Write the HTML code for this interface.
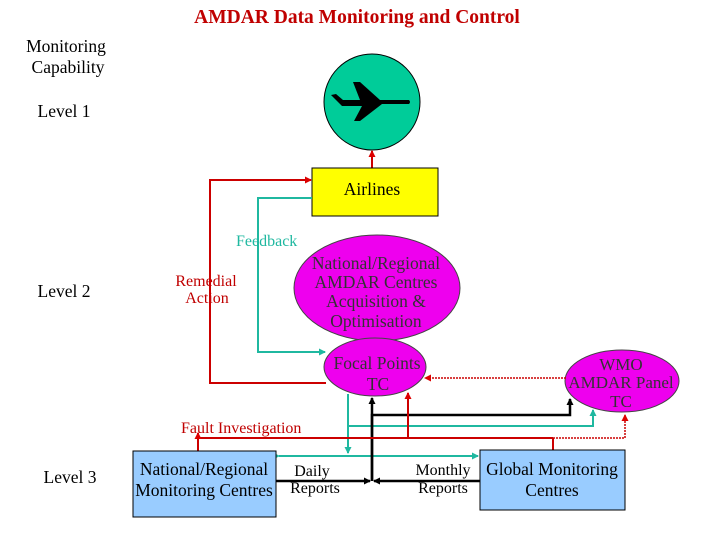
<!DOCTYPE html>
<html><head><style>
body{margin:0;background:#fff;}
svg text{font-family:"Liberation Serif",serif;}
</style></head><body>
<svg width="720" height="540" viewBox="0 0 720 540" xmlns="http://www.w3.org/2000/svg">
<defs>
<marker id="r" markerWidth="7" markerHeight="7" refX="6" refY="3.5" orient="auto" markerUnits="userSpaceOnUse"><path d="M0,0 L7,3.5 L0,7z" fill="#d00"/></marker>
<marker id="t" markerWidth="7" markerHeight="7" refX="6" refY="3.5" orient="auto" markerUnits="userSpaceOnUse"><path d="M0,0 L7,3.5 L0,7z" fill="#1fb8a0"/></marker>
<marker id="k" markerWidth="7" markerHeight="7" refX="6" refY="3.5" orient="auto" markerUnits="userSpaceOnUse"><path d="M0,0 L7,3.5 L0,7z" fill="#000"/></marker>
</defs>
<text x="357" y="23" text-anchor="middle" font-size="19.5" font-weight="bold" fill="#c00000">AMDAR Data Monitoring and Control</text>
<text x="66" y="52" text-anchor="middle" font-size="17.5">Monitoring</text>
<text x="68" y="73" text-anchor="middle" font-size="17.5">Capability</text>
<text x="64" y="117" text-anchor="middle" font-size="17.5">Level 1</text>
<text x="64" y="297" text-anchor="middle" font-size="17.5">Level 2</text>
<text x="70" y="483" text-anchor="middle" font-size="17.5">Level 3</text>

<circle cx="372" cy="102" r="48" fill="#00cc99" stroke="#000" stroke-width="1"/>
<path d="M331,95 L336,94 L343,100 L360,100 L353,82 L360,82 L380,100 L409,100 Q411,102 409,104 L382,104 L360,121 L354,121 L362,106 L342,106 Z" fill="#000"/>

<line x1="372" y1="168" x2="372" y2="151" stroke="#c00" stroke-width="2" marker-end="url(#r)"/>
<rect x="312" y="168" width="126" height="48" fill="#ffff00" stroke="#000"/>
<text x="372" y="195" text-anchor="middle" font-size="17.5">Airlines</text>

<ellipse cx="377" cy="288" rx="83" ry="53" fill="#ee00ee" stroke="#444"/>
<text x="376" y="269" text-anchor="middle" font-size="17.5" fill="#333">National/Regional</text>
<text x="376" y="288" text-anchor="middle" font-size="17.5" fill="#333">AMDAR Centres</text>
<text x="376" y="307" text-anchor="middle" font-size="17.5" fill="#333">Acquisition &amp;</text>
<text x="376" y="327" text-anchor="middle" font-size="17.5" fill="#333">Optimisation</text>

<ellipse cx="375" cy="367" rx="51" ry="29" fill="#ee00ee" stroke="#444"/>
<text x="377" y="369" text-anchor="middle" font-size="17.5" fill="#333">Focal Points</text>
<text x="378" y="390" text-anchor="middle" font-size="17.5" fill="#333">TC</text>

<ellipse cx="622" cy="381" rx="57" ry="31" fill="#ee00ee" stroke="#444"/>
<text x="621" y="370" text-anchor="middle" font-size="17" fill="#333">WMO</text>
<text x="621" y="388" text-anchor="middle" font-size="17" fill="#333">AMDAR Panel</text>
<text x="621" y="407" text-anchor="middle" font-size="17" fill="#333">TC</text>

<text x="236" y="246" font-size="16" fill="#1fb8a0">Feedback</text>
<text x="206" y="286" text-anchor="middle" font-size="16" fill="#c00000">Remedial</text>
<text x="207" y="303" text-anchor="middle" font-size="16" fill="#c00000">Action</text>
<text x="181" y="433" font-size="16" fill="#c00000">Fault Investigation</text>

<polyline points="326,383 210,383 210,180 311,180" fill="none" stroke="#c00" stroke-width="2" marker-end="url(#r)"/>
<polyline points="312,198 258,198 258,352 325,352" fill="none" stroke="#1fb8a0" stroke-width="2" marker-end="url(#t)"/>

<line x1="348" y1="394" x2="348" y2="453" stroke="#1fb8a0" stroke-width="2" marker-end="url(#t)"/>
<polyline points="348,426 593,426 593,410" fill="none" stroke="#1fb8a0" stroke-width="2" marker-end="url(#t)"/>
<line x1="279" y1="456" x2="478" y2="456" stroke="#1fb8a0" stroke-width="2" marker-start="url(#t)" marker-end="url(#t)"/>

<polyline points="372,481 372,415 570,415 570,399" fill="none" stroke="#000" stroke-width="2.5" marker-end="url(#k)"/>
<line x1="372" y1="481" x2="372" y2="398" stroke="#000" stroke-width="2.5" marker-end="url(#k)"/>
<line x1="276" y1="481" x2="370" y2="481" stroke="#000" stroke-width="2.5" marker-end="url(#k)"/>
<line x1="480" y1="481" x2="374" y2="481" stroke="#000" stroke-width="2.5" marker-end="url(#k)"/>

<line x1="198" y1="438" x2="553" y2="438" stroke="#c00" stroke-width="2"/>
<line x1="198" y1="451" x2="198" y2="433" stroke="#c00" stroke-width="2" marker-end="url(#r)"/>
<line x1="408" y1="438" x2="408" y2="393" stroke="#c00" stroke-width="2" marker-end="url(#r)"/>
<line x1="553" y1="450" x2="553" y2="438" stroke="#c00" stroke-width="2"/>
<polyline points="553,438 625,438 625,415" fill="none" stroke="#c00" stroke-width="1.5" stroke-dasharray="2,1" marker-end="url(#r)"/>
<line x1="566" y1="378" x2="425" y2="378" stroke="#c00" stroke-width="1.5" stroke-dasharray="2,1" marker-end="url(#r)"/>

<rect x="133" y="451" width="143" height="66" fill="#99ccff" stroke="#000"/>
<text x="204" y="475" text-anchor="middle" font-size="17.5">National/Regional</text>
<text x="204" y="496" text-anchor="middle" font-size="17.5">Monitoring Centres</text>
<rect x="480" y="450" width="145" height="60" fill="#99ccff" stroke="#000"/>
<text x="552" y="475" text-anchor="middle" font-size="17.5">Global Monitoring</text>
<text x="552" y="496" text-anchor="middle" font-size="17.5">Centres</text>
<text x="312" y="476" text-anchor="middle" font-size="16">Daily</text>
<text x="315" y="493" text-anchor="middle" font-size="16">Reports</text>
<text x="443" y="475" text-anchor="middle" font-size="16">Monthly</text>
<text x="443" y="493" text-anchor="middle" font-size="16">Reports</text>
</svg>
</body></html>
